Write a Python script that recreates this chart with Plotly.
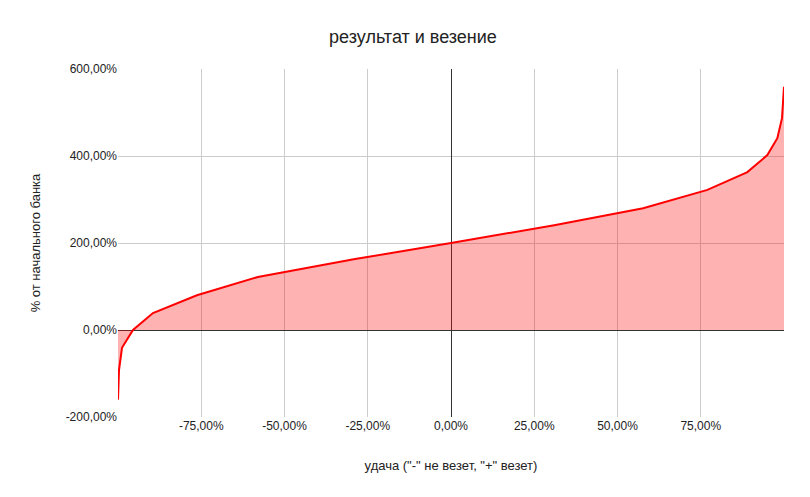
import plotly.graph_objects as go

luck = [-100, -99.7, -98.8, -95.5, -89.5, -76.3, -58, -28.8, 0, 31, 57.7, 77, 89, 95, 98, 99.4, 100]
result = [-160, -92, -41, 0, 39, 80, 122, 163, 200, 241, 280, 322, 363, 402, 441, 487, 559]
xticks = [-75, -50, -25, 0, 25, 50, 75]
yticks = [-200, 0, 200, 400, 600]

fig = go.Figure(go.Scatter(x=luck, y=result, mode="lines", line=dict(color="#ff0000", width=2),
                           fill="tozeroy", fillcolor="rgba(255,0,0,0.3)"))
fig.update_layout(
    width=810, height=497, paper_bgcolor="white", plot_bgcolor="white",
    font=dict(family="Liberation Sans, Arial", size=12, color="#222"),
    title=dict(text="результат и везение", x=0.5, xanchor="center", y=1-29/497, yanchor="middle",
               font=dict(size=18, color="#222")),
    margin=dict(l=110, r=34, t=61, b=88), showlegend=False,
)
fig.update_xaxes(range=[-100, 100], tickvals=xticks, ticktext=[f"{v:.2f}%".replace(".", ",") for v in xticks],
                 showgrid=True, gridcolor="#ccc", zeroline=True, zerolinecolor="#333", zerolinewidth=1,
                 title=dict(text='удача ("-" не везет, "+" везет)', font=dict(size=13), standoff=28),
                 ticks="", showline=False)
fig.update_yaxes(range=[-200, 600], tickvals=yticks, ticktext=[f"{v:.2f}%".replace(".", ",") for v in yticks],
                 showgrid=True, gridcolor="#ccc", zeroline=True, zerolinecolor="#333", zerolinewidth=1,
                 title=dict(text="% от начального банка", font=dict(size=13), standoff=22),
                 ticks="", showline=False)
fig.write_html("out.html")
